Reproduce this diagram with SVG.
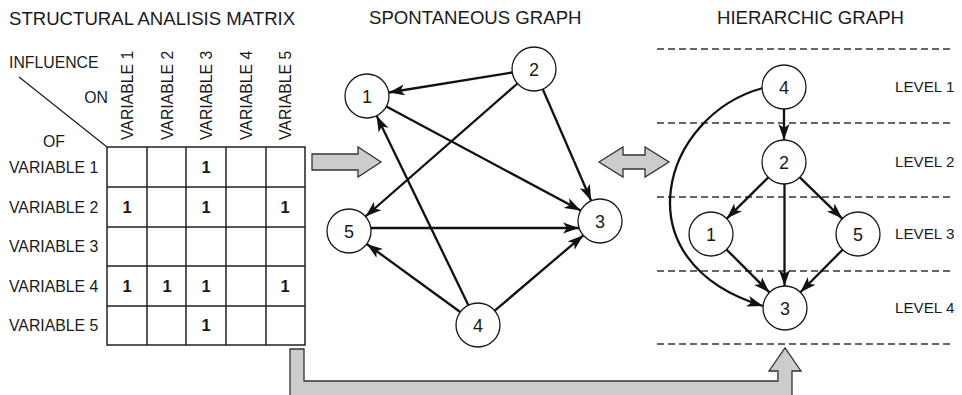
<svg xmlns="http://www.w3.org/2000/svg" width="962" height="395" viewBox="0 0 962 395">
<style>
text{font-family:"Liberation Sans",Arial,sans-serif;fill:#1a1a1a}
.title{font-size:18.6px}
.lbl{font-size:15.8px}
.lvl{font-size:15.2px}
.one{font-size:16.5px;font-weight:bold;text-anchor:middle}
.nt{font-size:18px;text-anchor:middle}
.node circle{fill:#fff;stroke:#1a1a1a;stroke-width:1.3}
.grid{fill:none;stroke:#222;stroke-width:1.5}
.edge{fill:none;stroke:#111;stroke-width:2.3;marker-end:url(#ah)}
.dash{stroke:#333;stroke-width:1.3;stroke-dasharray:7 4}
.big{fill:#cccccc;stroke:#333;stroke-width:1.3;stroke-linejoin:miter}
</style>
<defs>
<marker id="ah" markerUnits="userSpaceOnUse" markerWidth="17" markerHeight="12" refX="16" refY="5.5" orient="auto" viewBox="0 0 17 11">
<path d="M0,0 L16,5.5 L0,11 L4,5.5 z" fill="#111"/>
</marker>
</defs>
<rect width="962" height="395" fill="#fff"/>

<!-- titles -->
<text class="title" x="9" y="25">STRUCTURAL ANALISIS MATRIX</text>
<text class="title" x="369" y="24">SPONTANEOUS GRAPH</text>
<text class="title" x="717" y="24">HIERARCHIC GRAPH</text>

<!-- matrix -->
<g id="matrix">
<text class="lbl" x="9" y="68">INFLUENCE</text>
<text class="lbl" x="108" y="103" text-anchor="end">ON</text>
<text class="lbl" x="43" y="147">OF</text>
<line x1="19" y1="77" x2="107" y2="147" stroke="#222" stroke-width="1.3"/>
<text class="lbl" transform="translate(133,140) rotate(-90)">VARIABLE 1</text>
<text class="lbl" transform="translate(172.5,140) rotate(-90)">VARIABLE 2</text>
<text class="lbl" transform="translate(212,140) rotate(-90)">VARIABLE 3</text>
<text class="lbl" transform="translate(251.5,140) rotate(-90)">VARIABLE 4</text>
<text class="lbl" transform="translate(291,140) rotate(-90)">VARIABLE 5</text>
<text class="lbl" x="9" y="173">VARIABLE 1</text>
<text class="lbl" x="9" y="213">VARIABLE 2</text>
<text class="lbl" x="9" y="252">VARIABLE 3</text>
<text class="lbl" x="9" y="292">VARIABLE 4</text>
<text class="lbl" x="9" y="331">VARIABLE 5</text>
<path class="grid" d="M107,147 H305 V345 H107 Z M147,147 V345 M186,147 V345 M226,147 V345 M266,147 V345 M107,187 H305 M107,227 H305 M107,266 H305 M107,306 H305"/>
<text class="one" x="206" y="173">1</text>
<text class="one" x="127" y="213">1</text>
<text class="one" x="206" y="213">1</text>
<text class="one" x="285" y="213">1</text>
<text class="one" x="127" y="292">1</text>
<text class="one" x="167" y="292">1</text>
<text class="one" x="206" y="292">1</text>
<text class="one" x="285" y="292">1</text>
<text class="one" x="206" y="331">1</text>
</g>

<!-- big grey arrows -->
<g id="arrow-right"><path class="big" d="M312,154 H358 V147 L381,162 L358,177 V170 H312 Z"/></g>
<g id="arrow-double"><path class="big" d="M599,162 L623,147 V155 H645 V147 L669,162 L645,177 V169 H623 V177 Z"/></g>
<g id="arrow-bottom"><path class="big" d="M290,349 H304 V381 H778 V371 H769 L785,348 L801,371 H792 V400 H290 Z"/></g>

<!-- dashed level lines -->
<g id="levels">
<line class="dash" x1="657" y1="49" x2="953" y2="49"/>
<line class="dash" x1="657" y1="123" x2="953" y2="123"/>
<line class="dash" x1="657" y1="197" x2="953" y2="197"/>
<line class="dash" x1="657" y1="271" x2="953" y2="271"/>
<line class="dash" x1="657" y1="344" x2="953" y2="344"/>
<text class="lvl" x="895" y="92">LEVEL 1</text>
<text class="lvl" x="895" y="167">LEVEL 2</text>
<text class="lvl" x="895" y="239">LEVEL 3</text>
<text class="lvl" x="895" y="313">LEVEL 4</text>
</g>

<!-- connectors -->
<g id="connectors">
<line class="edge" x1="512.3" y1="72.5" x2="388.7" y2="92.5"/>
<line class="edge" x1="517.5" y1="83.5" x2="365.5" y2="216.5"/>
<line class="edge" x1="542.8" y1="89.2" x2="591.2" y2="200.8"/>
<line class="edge" x1="386.4" y1="106.4" x2="580.6" y2="210.6"/>
<line class="edge" x1="371" y1="228" x2="579" y2="228"/>
<line class="edge" x1="460.2" y1="312" x2="366.8" y2="244"/>
<line class="edge" x1="468.4" y1="305.2" x2="376.6" y2="115.8"/>
<line class="edge" x1="494.7" y1="310.7" x2="583.3" y2="235.3"/>

<line class="edge" x1="784" y1="109" x2="784" y2="140"/>
<line class="edge" x1="768.3" y1="177.4" x2="726.7" y2="218.6"/>
<line class="edge" x1="799.8" y1="177.4" x2="842.2" y2="218.6"/>
<line class="edge" x1="784.5" y1="184" x2="784.5" y2="286"/>
<line class="edge" x1="726.6" y1="249.6" x2="769.4" y2="292.4"/>
<line class="edge" x1="842.6" y1="249.7" x2="800.4" y2="292.3"/>
<path class="edge" d="M763,88 C662,115 618,262 763,306"/>
</g>

<!-- spontaneous graph nodes -->
<g id="s1" class="node"><circle cx="367" cy="96" r="22"/><text class="nt" x="367" y="102.5">1</text></g>
<g id="s2" class="node"><circle cx="534" cy="69" r="22"/><text class="nt" x="534" y="75.5">2</text></g>
<g id="s3" class="node"><circle cx="600" cy="221" r="22"/><text class="nt" x="600" y="227.5">3</text></g>
<g id="s4" class="node"><circle cx="478" cy="325" r="22"/><text class="nt" x="478" y="331.5">4</text></g>
<g id="s5" class="node"><circle cx="349" cy="231" r="22"/><text class="nt" x="349" y="237.5">5</text></g>

<!-- hierarchic graph nodes -->
<g id="h4" class="node"><circle cx="784" cy="87" r="22"/><text class="nt" x="784" y="93.5">4</text></g>
<g id="h2" class="node"><circle cx="784" cy="162" r="22"/><text class="nt" x="784" y="168.5">2</text></g>
<g id="h1" class="node"><circle cx="711" cy="234" r="22"/><text class="nt" x="711" y="240.5">1</text></g>
<g id="h5" class="node"><circle cx="858" cy="234" r="22"/><text class="nt" x="858" y="240.5">5</text></g>
<g id="h3" class="node"><circle cx="785" cy="308" r="22"/><text class="nt" x="785" y="314.5">3</text></g>
</svg>
